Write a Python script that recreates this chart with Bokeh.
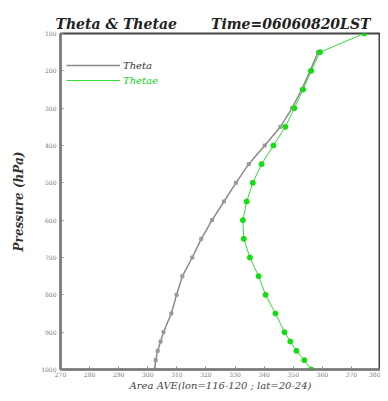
from bokeh.plotting import figure
from bokeh.models import Range1d, Legend, LegendItem, FixedTicker, Title
from bokeh.embed import file_html
from bokeh.resources import INLINE

# Data
pressure = [100, 150, 200, 250, 300, 350, 400, 450, 500, 550, 600, 650, 700,
            750, 800, 850, 900, 925, 950, 975, 1000]
thetae = [374.4, 359.2, 356.2, 353.4, 350.4, 347.3, 343.2, 339.1, 336.1, 334.0,
          332.7, 333.0, 335.1, 338.1, 340.5, 343.9, 347.0, 349.0, 351.1, 353.8, 356.2]
theta_p = [150, 200, 250, 300, 350, 400, 450, 500, 550, 600, 650, 700,
           750, 800, 850, 900, 925, 950, 975, 1000]
theta = [358.5, 355.8, 352.9, 349.6, 345.6, 340.2, 334.7, 330.3, 326.2, 322.1,
         318.4, 315.3, 311.9, 309.9, 308.1, 305.4, 304.4, 303.4, 302.7, 302.4]
x_ticks = [270, 280, 290, 300, 310, 320, 330, 340, 350, 360, 370, 380]
y_ticks = [100, 200, 300, 400, 500, 600, 700, 800, 900, 1000]
title_left = "Theta & Thetae"
title_right = "Time=06060820LST"

SERIF = "DejaVu Serif"

p = figure(width=380, height=393, output_backend="svg", toolbar_location=None,
           x_range=Range1d(270, 380), y_range=Range1d(1000, 100),
           min_border_left=60, min_border_right=0, min_border_top=33,
           min_border_bottom=19)
p.grid.visible = False
p.outline_line_color = "#444444"
p.outline_line_width = 2
p.background_fill_color = "white"
p.border_fill_color = "white"

for ax in (p.xaxis[0], p.yaxis[0]):
    ax.axis_line_color = "#777777"
    ax.axis_line_width = 2
    ax.major_tick_in = 3
    ax.major_tick_out = 0
    ax.minor_tick_line_color = None
    ax.major_tick_line_color = "#888888"
    ax.major_label_text_font = SERIF
    ax.major_label_text_font_size = "6px"
    ax.major_label_text_color = "#777777"

p.xaxis[0].ticker = FixedTicker(ticks=x_ticks)
p.yaxis[0].ticker = FixedTicker(ticks=y_ticks)
p.xaxis[0].major_label_standoff = 2
p.yaxis[0].major_label_standoff = 4

p.xaxis[0].axis_label = "Area AVE(lon=116-120 ; lat=20-24)"
p.xaxis[0].axis_label_text_font = SERIF
p.xaxis[0].axis_label_text_font_style = "italic"
p.xaxis[0].axis_label_text_font_size = "10px"
p.xaxis[0].axis_label_text_color = "#444444"
p.xaxis[0].axis_label_standoff = 0

p.yaxis[0].axis_label = "Pressure (hPa)"
p.yaxis[0].axis_label_text_font = SERIF
p.yaxis[0].axis_label_text_font_style = "bold italic"
p.yaxis[0].axis_label_text_font_size = "12px"
p.yaxis[0].axis_label_text_color = "#333333"
p.yaxis[0].axis_label_standoff = 12

r_theta = p.line(theta, theta_p, line_color="#8a8a8a", line_width=1.5)
p.scatter(theta, theta_p, size=3, marker="square", fill_color="#999999",
          line_color="#999999")
r_thetae = p.line(thetae, pressure, line_color="#33dd33", line_width=1)
p.scatter(thetae, pressure, size=5, fill_color="#11dd11", line_color="#11dd11")

common = dict(glyph_width=54, glyph_height=12, label_height=12, padding=2,
              margin=0, label_text_font=SERIF, label_text_font_style="italic",
              label_text_font_size="10px", border_line_color=None,
              background_fill_alpha=0, label_standoff=3)
leg1 = Legend(items=[LegendItem(label="Theta", renderers=[r_theta])],
              location=(6, 298), label_text_color="#333333", **common)
leg2 = Legend(items=[LegendItem(label="Thetae", renderers=[r_thetae])],
              location=(6, 283), label_text_color="#22cc22", **common)
p.add_layout(leg1)
p.add_layout(leg2)

p.add_layout(Title(text=title_left + "\u00a0" * 7 + title_right, align="left",
                   offset=-5, text_font=SERIF, text_font_style="bold italic",
                   text_font_size="14px", text_color="#222222", standoff=4),
             "above")

open("out.html", "w").write(file_html(p, INLINE))
